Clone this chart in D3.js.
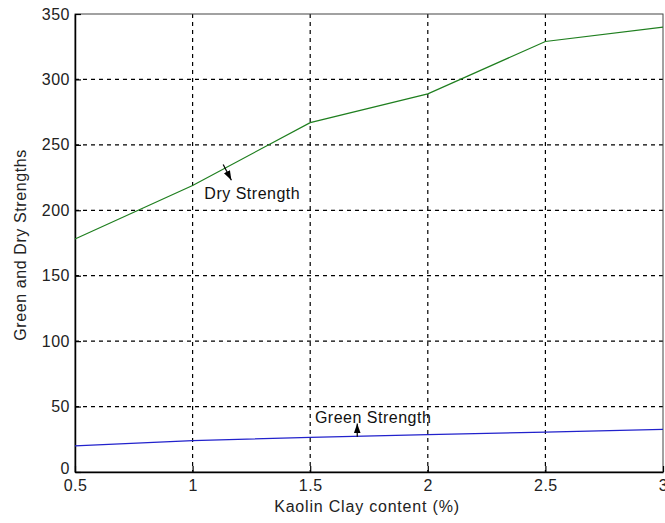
<!DOCTYPE html>
<html>
<head>
<meta charset="utf-8" />
<title>Green and Dry Strengths</title>
<style>
  body { margin: 0; background: #fff; }
  text { font-family: "Liberation Sans", Arial, sans-serif; }
</style>
</head>
<body>
<div id="chart"></div>
<script src="https://d3js.org/d3.v7.min.js"></script>
<script>
  // data
  const clayContent = [0.5, 1, 1.5, 2, 2.5, 3];
  const dryStrength = [178, 219, 267, 289, 329, 340];
  const greenStrength = [20, 24, 26.5, 28.5, 30.5, 32.5];
  const xTicks = [0.5, 1, 1.5, 2, 2.5, 3];
  const yTicks = [0, 50, 100, 150, 200, 250, 300, 350];

  const width = 665, height = 523;
  const margin = { top: 14, right: 2, bottom: 51, left: 75 };
  const iw = width - margin.left - margin.right;
  const ih = height - margin.top - margin.bottom;
  const fs = 16, ls = 0.5;

  const svg = d3.select("#chart").append("svg")
    .attr("width", width)
    .attr("height", height);

  const g = svg.append("g")
    .attr("transform", `translate(${margin.left},${margin.top})`);

  const x = d3.scaleLinear().domain([0.5, 3]).range([0, iw]);
  const y = d3.scaleLinear().domain([0, 350]).range([ih, 0]);

  // dashed grid
  g.append("g").selectAll("line")
    .data(xTicks.slice(1, -1))
    .join("line")
    .attr("x1", d => x(d)).attr("x2", d => x(d))
    .attr("y1", 0).attr("y2", ih)
    .attr("stroke", "#000").attr("stroke-width", 1.2)
    .attr("stroke-dasharray", "4,4");

  g.append("g").selectAll("line")
    .data(yTicks.slice(1, -1))
    .join("line")
    .attr("x1", 0).attr("x2", iw)
    .attr("y1", d => y(d)).attr("y2", d => y(d))
    .attr("stroke", "#000").attr("stroke-width", 1.2)
    .attr("stroke-dasharray", "4,4");

  // frame
  g.append("rect")
    .attr("width", iw).attr("height", ih)
    .attr("fill", "none").attr("stroke", "#444").attr("stroke-width", 1);

  const xAxis = d3.axisBottom(x).tickValues(xTicks).tickFormat(d3.format("")).tickSizeInner(-6).tickSizeOuter(0).tickPadding(9);
  const yAxis = d3.axisLeft(y).tickValues(yTicks).tickSizeInner(-6).tickSizeOuter(0).tickPadding(5);

  const gx = g.append("g").attr("transform", `translate(0,${ih})`).call(xAxis);
  const gy = g.append("g").call(yAxis);

  [gx, gy].forEach(a => {
    a.select(".domain").attr("stroke", "#000").attr("stroke-width", 1.5);
    a.selectAll(".tick line").attr("stroke", "#000").attr("stroke-width", 1.2);
    a.selectAll(".tick text")
      .attr("font-family", "'Liberation Sans', Arial, sans-serif")
      .attr("font-size", fs)
      .attr("letter-spacing", ls)
      .attr("fill", "#222");
  });
  gx.selectAll(".tick text").attr("dy", "0.6em");
  // the bottom y label sits just above the first x label
  gy.selectAll(".tick text").filter(d => d === 0).attr("dy", "0.1em");

  // lines
  const line = d3.line()
    .x(d => x(d[0]))
    .y(d => y(d[1]));

  g.append("path")
    .datum(d3.zip(clayContent, dryStrength))
    .attr("d", line)
    .attr("fill", "none")
    .attr("stroke", "#1f7f1f")
    .attr("stroke-width", 1.2);

  g.append("path")
    .datum(d3.zip(clayContent, greenStrength))
    .attr("d", line)
    .attr("fill", "none")
    .attr("stroke", "#2222cc")
    .attr("stroke-width", 1.3);

  // annotations with arrows
  svg.append("defs").append("marker")
    .attr("id", "head")
    .attr("viewBox", "0 0 10 10")
    .attr("refX", 10).attr("refY", 5)
    .attr("markerWidth", 8).attr("markerHeight", 8)
    .attr("orient", "auto")
    .append("path").attr("d", "M0,1.5 L10,5 L0,8.5 Z").attr("fill", "#000");

  g.append("line")
    .attr("x1", x(1.13)).attr("y1", y(235))
    .attr("x2", x(1.165)).attr("y2", y(223))
    .attr("stroke", "#000").attr("stroke-width", 1.2)
    .attr("marker-end", "url(#head)");

  g.append("text")
    .attr("x", x(1.05)).attr("y", y(209))
    .attr("font-size", fs).attr("letter-spacing", ls).attr("fill", "#111")
    .text("Dry Strength");

  g.append("line")
    .attr("x1", x(1.7)).attr("y1", y(27))
    .attr("x2", x(1.7)).attr("y2", y(37))
    .attr("stroke", "#000").attr("stroke-width", 1.2)
    .attr("marker-end", "url(#head)");

  g.append("text")
    .attr("x", x(1.52)).attr("y", y(37.5))
    .attr("font-size", fs).attr("letter-spacing", ls).attr("fill", "#111")
    .text("Green Strength");

  // axis titles
  svg.append("text")
    .attr("x", margin.left + iw / 2 - 2)
    .attr("y", 512)
    .attr("text-anchor", "middle")
    .attr("font-size", fs).attr("letter-spacing", 0.8).attr("fill", "#222")
    .text("Kaolin Clay content (%)");

  svg.append("text")
    .attr("transform", `translate(26,${margin.top + ih / 2 + 2}) rotate(-90)`)
    .attr("text-anchor", "middle")
    .attr("font-size", fs).attr("letter-spacing", 0.6).attr("fill", "#222")
    .text("Green and Dry Strengths");
</script>
</body>
</html>
